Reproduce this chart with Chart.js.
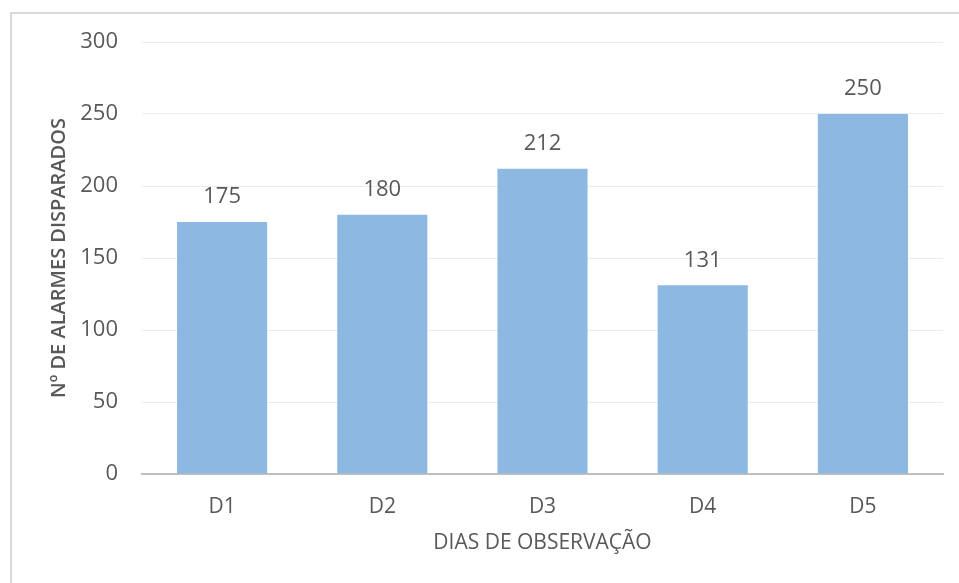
<!DOCTYPE html>
<html>
<head>
<meta charset="utf-8">
<script src="https://cdn.jsdelivr.net/npm/chart.js@4"></script>
<style>
html,body{margin:0;padding:0;background:#fff;}
#wrap{position:relative;width:959px;height:583px;}
</style>
</head>
<body>
<div id="wrap"><canvas id="c" width="959" height="583"></canvas></div>
<script>
const categories = ["D1", "D2", "D3", "D4", "D5"];
const alarmes = [175, 180, 212, 131, 250];
const yTicks = [0, 50, 100, 150, 200, 250, 300];
const xTitle = "DIAS DE OBSERVAÇÃO";
const yTitle = "Nº DE ALARMES DISPARADOS";

const textColor = "#595959";
const fontFamily = "'Open Sans', 'Noto Sans', sans-serif";

const frame = {
  id: "frame",
  beforeDraw(chart) {
    const ctx = chart.ctx;
    ctx.save();
    ctx.strokeStyle = "#d9d9d9";
    ctx.lineWidth = 2;
    ctx.beginPath();
    ctx.moveTo(11, 583);
    ctx.lineTo(11, 13);
    ctx.lineTo(959, 13);
    ctx.stroke();
    ctx.restore();
  }
};

const valueLabels = {
  id: "valueLabels",
  afterDatasetsDraw(chart) {
    const ctx = chart.ctx;
    const meta = chart.getDatasetMeta(0);
    ctx.save();
    ctx.fillStyle = textColor;
    ctx.font = "22px " + fontFamily;
    ctx.textAlign = "center";
    ctx.textBaseline = "middle";
    meta.data.forEach((bar, i) => {
      ctx.fillText(String(chart.data.datasets[0].data[i]), bar.x, bar.y - 25);
    });
    ctx.restore();
  }
};

new Chart(document.getElementById("c"), {
  type: "bar",
  data: {
    labels: categories,
    datasets: [{
      data: alarmes,
      backgroundColor: "#8db8e1",
      borderWidth: 0,
      categoryPercentage: 1,
      barPercentage: 0.5625
    }]
  },
  options: {
    responsive: false,
    animation: false,
    devicePixelRatio: 1,
    layout: { padding: { top: 42, right: 16, left: 0, bottom: 0 } },
    plugins: { legend: { display: false }, tooltip: { enabled: false } },
    scales: {
      x: {
        grid: { display: false, drawTicks: false },
        border: { display: true, color: "#bfbfbf", width: 2 },
        ticks: { color: textColor, font: { family: fontFamily, size: 21 }, padding: 20 },
        title: { display: true, text: xTitle, color: textColor, font: { family: fontFamily, size: 21 }, padding: { top: 0, bottom: 27 } },
        afterFit(scale) { scale.height = 109; }
      },
      y: {
        min: 0, max: 300,
        afterBuildTicks(scale) { scale.ticks = yTicks.map(v => ({ value: v })); },
        grid: { color: "#ececec", lineWidth: 1, drawTicks: false },
        border: { display: false },
        ticks: { color: textColor, font: { family: fontFamily, size: 22 }, padding: 24 },
        title: { display: true, text: yTitle, color: textColor, font: { family: fontFamily, size: 20, weight: "600" }, padding: { top: 47, bottom: 0 } },
        afterFit(scale) { scale.width = 142; }
      }
    }
  },
  plugins: [frame, valueLabels]
});
</script>
</body>
</html>
